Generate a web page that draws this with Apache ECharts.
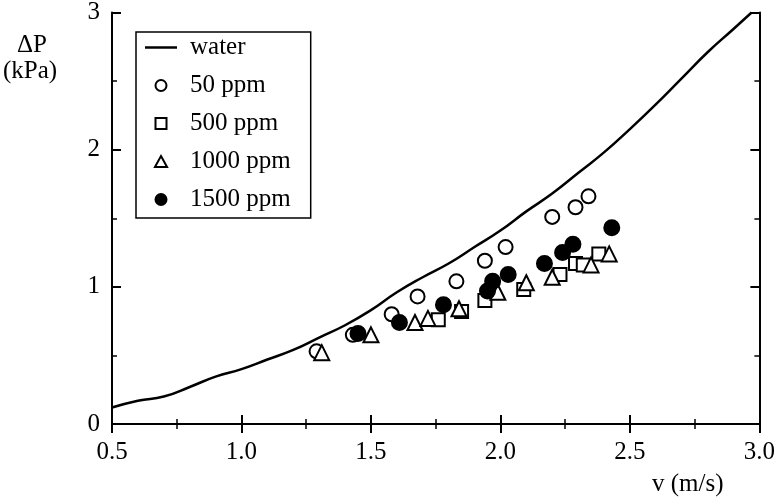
<!DOCTYPE html>
<html>
<head>
<meta charset="utf-8">
<script src="https://cdn.jsdelivr.net/npm/echarts@6/dist/echarts.min.js"></script>
<style>
  html, body { margin: 0; padding: 0; background: #fff; }
  #chart { width: 778px; height: 499px; }
</style>
</head>
<body>
<div id="chart"></div>
<script>
// pressure drop vs velocity
var waterCurve = [
  [0.5, 0.12], [0.6, 0.17], [0.7, 0.20], [0.8, 0.27], [0.9, 0.345], [1.0, 0.40],
  [1.1, 0.47], [1.2, 0.54], [1.3, 0.63], [1.4, 0.72], [1.5, 0.83], [1.6, 0.96],
  [1.7, 1.07], [1.8, 1.17], [1.9, 1.29], [2.0, 1.41], [2.1, 1.55], [2.2, 1.68],
  [2.3, 1.83], [2.4, 1.98], [2.5, 2.15], [2.6, 2.33], [2.7, 2.52], [2.8, 2.71],
  [2.9, 2.88], [2.97, 3.0]
];
var ppm50 = [
  [1.29, 0.53], [1.43, 0.65], [1.58, 0.80], [1.68, 0.93], [1.83, 1.04],
  [1.94, 1.19], [2.02, 1.29], [2.20, 1.51], [2.29, 1.58], [2.34, 1.66]
];
var ppm500 = [
  [1.76, 0.76], [1.85, 0.82], [1.94, 0.90], [2.09, 0.98], [2.23, 1.09],
  [2.29, 1.17], [2.32, 1.16], [2.38, 1.24]
];
var ppm1000 = [
  [1.31, 0.52], [1.50, 0.65], [1.67, 0.74], [1.72, 0.77], [1.84, 0.84],
  [1.99, 0.96], [2.10, 1.03], [2.20, 1.07], [2.35, 1.16], [2.42, 1.24]
];
var ppm1500 = [
  [1.45, 0.66], [1.61, 0.74], [1.78, 0.87], [1.95, 0.97], [1.97, 1.04],
  [2.03, 1.09], [2.17, 1.17], [2.24, 1.25], [2.28, 1.31], [2.43, 1.43]
];
var seriesNames = ['water', '50 ppm', '500 ppm', '1000 ppm', '1500 ppm'];

var font = 'Liberation Serif';
var fontSize = 25;
var myChart = echarts.init(document.getElementById('chart'));

function tickAxis(showLabel) {
  return {
    type: 'value',
    axisLine: { show: true, lineStyle: { color: '#000', width: 2 } },
    axisTick: { show: true, inside: true, length: 9, lineStyle: { color: '#000', width: 2 } },
    minorTick: { show: true, splitNumber: 2, length: 5, lineStyle: { color: '#000', width: 1.5 } },
    splitLine: { show: false },
    axisLabel: { show: showLabel, color: '#000', fontFamily: font, fontSize: fontSize }
  };
}

var xBottom = tickAxis(true);
xBottom.min = 0.5; xBottom.max = 3.0; xBottom.interval = 0.5;
xBottom.position = 'bottom';
xBottom.axisLabel.margin = 16;
xBottom.axisLabel.formatter = function (v) { return v.toFixed(1); };
var xTop = tickAxis(false);
xTop.min = 0.5; xTop.max = 3.0; xTop.interval = 0.5;
xTop.position = 'top';

var yLeft = tickAxis(true);
yLeft.min = 0; yLeft.max = 3; yLeft.interval = 1;
yLeft.position = 'left';
yLeft.axisLabel.margin = 12;
var yRight = tickAxis(false);
yRight.min = 0; yRight.max = 3; yRight.interval = 1;
yRight.position = 'right';

function scatter(name, data, symbol, size, filled) {
  return {
    name: name,
    type: 'scatter',
    data: data,
    symbol: symbol,
    symbolSize: size,
    itemStyle: {
      color: filled ? '#000' : '#fff',
      borderColor: '#000',
      borderWidth: 2,
      opacity: 1
    }
  };
}

var option = {
  animation: false,
  backgroundColor: '#fff',
  grid: { left: 112, right: 16, top: 10, bottom: 75 },
  xAxis: [xBottom, xTop],
  yAxis: [yLeft, yRight],
  legend: {
    orient: 'vertical',
    left: 136,
    top: 32,
    padding: [3, 20, 6, 9],
    itemGap: 13,
    itemWidth: 32,
    itemHeight: 11,
    symbolKeepAspect: true,
    borderColor: '#000',
    borderWidth: 1.5,
    borderRadius: 0,
    data: [
      { name: seriesNames[0], icon: 'path://M0,0L32,0L32,2.5L0,2.5Z' },
      { name: seriesNames[1], icon: 'circle' },
      { name: seriesNames[2], icon: 'path://M0,0L10,0L10,10L0,10Z' },
      { name: seriesNames[3], icon: 'path://M5.5,0L11,10L0,10Z' },
      { name: seriesNames[4], icon: 'circle' }
    ],
    textStyle: { color: '#000', fontFamily: font, fontSize: fontSize, padding: [0, 0, 0, 8] }
  },
  graphic: [
    { type: 'text', left: 17, top: 33, style: { text: '\u0394P', font: '25px "Liberation Serif"', fill: '#000' } },
    { type: 'text', left: 3, top: 59, style: { text: '(kPa)', font: '25px "Liberation Serif"', fill: '#000' } },
    { type: 'text', left: 652, top: 472, style: { text: 'v (m/s)', font: '25px "Liberation Serif"', fill: '#000' } }
  ],
  series: [
    {
      name: seriesNames[0],
      type: 'line',
      data: waterCurve,
      symbol: 'none',
      smooth: true,
      lineStyle: { color: '#000', width: 2.5 },
      itemStyle: { color: '#000' }
    },
    scatter(seriesNames[1], ppm50, 'circle', 14, false),
    scatter(seriesNames[2], ppm500, 'rect', 13, false),
    scatter(seriesNames[3], ppm1000, 'triangle', 15, false),
    scatter(seriesNames[4], ppm1500, 'circle', 15, true)
  ]
};
myChart.setOption(option);
</script>
</body>
</html>
